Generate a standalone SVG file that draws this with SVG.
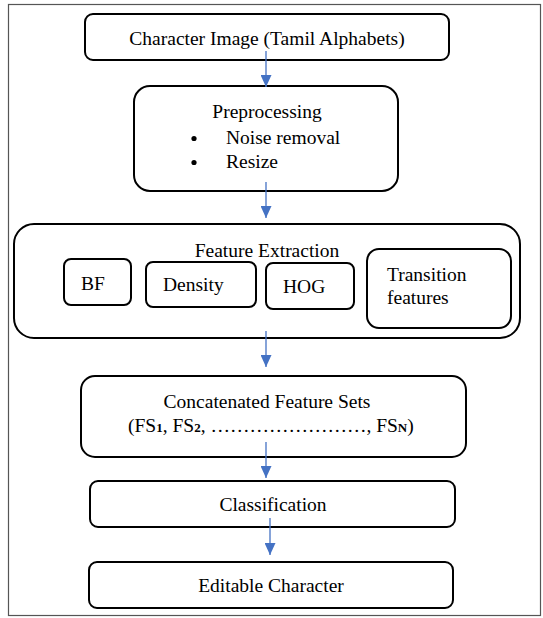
<svg xmlns="http://www.w3.org/2000/svg" width="543" height="618" viewBox="0 0 543 618">
<style>
.box{fill:#fff;stroke:#000;stroke-width:2}
text{font-family:'Liberation Serif','Times New Roman','DejaVu Serif',serif;font-size:19.5px;fill:#000}
.c{text-anchor:middle}
.con{stroke:#4472C4;stroke-width:1.3;fill:none}
</style>
<defs>
<marker id="ah" markerUnits="userSpaceOnUse" markerWidth="12" markerHeight="11" refX="12" refY="5.5" orient="auto" viewBox="0 0 12 11">
<path d="M0,0 L12,5.5 L0,11 Z" fill="#4472C4"/>
</marker>
</defs>
<rect x="8.5" y="4.5" width="532" height="611" fill="#fff" stroke="#555" stroke-width="1.2"/>
<g id="n1">
<rect class="box" x="85" y="14" width="364" height="46" rx="8"/>
<text class="c" x="267" y="45">Character Image (Tamil Alphabets)</text>
</g>
<g id="n2">
<rect class="box" x="134" y="86" width="264" height="105" rx="16"/>
<text class="c" x="267" y="118">Preprocessing</text>
<circle cx="194" cy="138.5" r="2.6" fill="#000"/>
<text x="226" y="144">Noise removal</text>
<circle cx="194" cy="162.5" r="2.6" fill="#000"/>
<text x="226" y="168">Resize</text>
</g>
<g id="n3">
<rect class="box" x="14" y="224" width="506" height="114" rx="20"/>
<text class="c" x="267" y="257">Feature Extraction</text>
</g>
<g id="n3a">
<rect class="box" x="64" y="259" width="67" height="46" rx="7"/>
<text x="81" y="290">BF</text>
</g>
<g id="n3b">
<rect class="box" x="146" y="262" width="110" height="45" rx="7"/>
<text x="163" y="291">Density</text>
</g>
<g id="n3c">
<rect class="box" x="266" y="263" width="88" height="46" rx="7"/>
<text x="283" y="293">HOG</text>
</g>
<g id="n3d">
<rect class="box" x="367" y="249" width="144" height="79" rx="12"/>
<text x="387" y="281">Transition</text>
<text x="387" y="304">features</text>
</g>
<g id="n4">
<rect class="box" x="81" y="376" width="385" height="81" rx="14"/>
<text class="c" x="267" y="408">Concatenated Feature Sets</text>
<text x="128" y="432">(FS<tspan font-size="13" font-weight="bold">1</tspan>, FS<tspan font-size="13" font-weight="bold">2</tspan>, ……………………, FS<tspan font-size="13" font-weight="bold">N</tspan>)</text>
</g>
<g id="n5">
<rect class="box" x="90" y="481" width="365" height="46" rx="8"/>
<text class="c" x="273" y="511">Classification</text>
</g>
<g id="n6">
<rect class="box" x="89" y="562" width="364" height="46" rx="8"/>
<text class="c" x="271" y="592">Editable Character</text>
</g>
<g id="connectors">
<line class="con" x1="266" y1="51" x2="266" y2="87" marker-end="url(#ah)"/>
<line class="con" x1="266" y1="182" x2="266" y2="218" marker-end="url(#ah)"/>
<line class="con" x1="266" y1="331" x2="266" y2="367" marker-end="url(#ah)"/>
<line class="con" x1="266" y1="442" x2="266" y2="478" marker-end="url(#ah)"/>
<line class="con" x1="270" y1="518" x2="270" y2="555" marker-end="url(#ah)"/>
</g>
</svg>
